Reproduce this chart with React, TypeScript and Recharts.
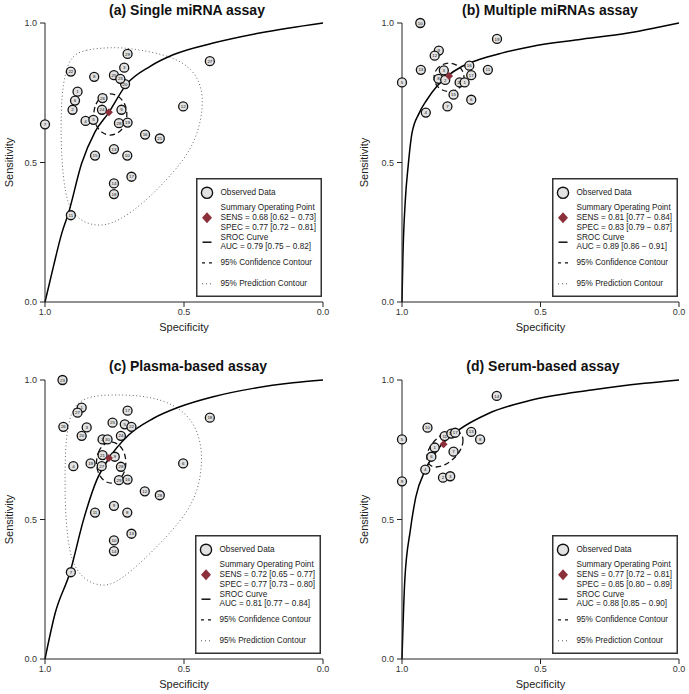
import { ComposedChart, Scatter, Line, XAxis, YAxis, Legend } from 'recharts';

type Pt = { x: number; y: number; id?: string };

const FONT = '"Liberation Sans", Arial, Helvetica, sans-serif';
const AXIS_TICKS = [0, 0.5, 1];

// (a) single miRNA assay
const A_STUDIES: Pt[] = [
  { x: 1.0, y: 0.637, id: '7' }, { x: 0.907, y: 0.826, id: '22' }, { x: 0.883, y: 0.754, id: '1' },
  { x: 0.892, y: 0.722, id: '6' }, { x: 0.901, y: 0.689, id: '2' }, { x: 0.854, y: 0.649, id: '4' },
  { x: 0.826, y: 0.653, id: '5' }, { x: 0.823, y: 0.807, id: '8' }, { x: 0.793, y: 0.731, id: '26' },
  { x: 0.795, y: 0.689, id: '24' }, { x: 0.752, y: 0.813, id: '25' }, { x: 0.715, y: 0.84, id: '3' },
  { x: 0.712, y: 0.781, id: '20' }, { x: 0.729, y: 0.8, id: '23' }, { x: 0.703, y: 0.889, id: '29' },
  { x: 0.725, y: 0.689, id: '9' }, { x: 0.734, y: 0.641, id: '28' }, { x: 0.703, y: 0.643, id: '19' },
  { x: 0.64, y: 0.6, id: '16' }, { x: 0.587, y: 0.586, id: '21' }, { x: 0.503, y: 0.701, id: '12' },
  { x: 0.407, y: 0.863, id: '27' }, { x: 0.752, y: 0.548, id: '13' }, { x: 0.82, y: 0.525, id: '15' },
  { x: 0.704, y: 0.525, id: '10' }, { x: 0.689, y: 0.449, id: '17' }, { x: 0.752, y: 0.425, id: '14' },
  { x: 0.752, y: 0.387, id: '18' }, { x: 0.907, y: 0.311, id: '11' },
];
const A_SUMMARY: Pt[] = [{ x: 0.77, y: 0.68 }];
const A_SROC: Pt[] = [
  { x: 1, y: 0 }, { x: 0.97, y: 0.126 }, { x: 0.94, y: 0.245 }, { x: 0.916, y: 0.317 },
  { x: 0.868, y: 0.497 }, { x: 0.82, y: 0.61 }, { x: 0.772, y: 0.677 }, { x: 0.707, y: 0.78 },
  { x: 0.623, y: 0.844 }, { x: 0.539, y: 0.886 }, { x: 0.395, y: 0.928 }, { x: 0.228, y: 0.964 },
  { x: 0, y: 1 },
];
const A_CONF: Pt[] = [
  { x: 0.827, y: 0.672 }, { x: 0.819, y: 0.711 }, { x: 0.796, y: 0.739 }, { x: 0.765, y: 0.749 },
  { x: 0.734, y: 0.739 }, { x: 0.711, y: 0.711 }, { x: 0.703, y: 0.672 }, { x: 0.711, y: 0.634 },
  { x: 0.734, y: 0.605 }, { x: 0.765, y: 0.595 }, { x: 0.796, y: 0.605 }, { x: 0.819, y: 0.634 },
];
const A_PRED: Pt[] = [
  { x: 0.904, y: 0.886 }, { x: 0.85, y: 0.904 }, { x: 0.802, y: 0.91 }, { x: 0.731, y: 0.913 },
  { x: 0.659, y: 0.904 }, { x: 0.539, y: 0.88 }, { x: 0.467, y: 0.832 }, { x: 0.437, y: 0.772 },
  { x: 0.431, y: 0.701 }, { x: 0.449, y: 0.605 }, { x: 0.491, y: 0.521 }, { x: 0.563, y: 0.437 },
  { x: 0.647, y: 0.353 }, { x: 0.731, y: 0.293 }, { x: 0.79, y: 0.272 }, { x: 0.85, y: 0.279 },
  { x: 0.904, y: 0.317 }, { x: 0.928, y: 0.389 }, { x: 0.94, y: 0.509 }, { x: 0.943, y: 0.629 },
  { x: 0.94, y: 0.737 }, { x: 0.928, y: 0.82 },
];
const A_STATS = ['SENS = 0.68 [0.62 − 0.73]', 'SPEC = 0.77 [0.72 − 0.81]', 'AUC = 0.79 [0.75 − 0.82]'];

// (b) multiple miRNAs assay
const B_STUDIES: Pt[] = [
  { x: 0.934, y: 1.0, id: '10' }, { x: 0.657, y: 0.943, id: '19' }, { x: 0.867, y: 0.901, id: '9' },
  { x: 0.882, y: 0.883, id: '12' }, { x: 0.932, y: 0.832, id: '13' }, { x: 1.0, y: 0.787, id: '5' },
  { x: 0.849, y: 0.83, id: '3' }, { x: 0.868, y: 0.8, id: '8' }, { x: 0.844, y: 0.796, id: '2' },
  { x: 0.757, y: 0.847, id: '16' }, { x: 0.75, y: 0.813, id: '17' }, { x: 0.69, y: 0.832, id: '11' },
  { x: 0.792, y: 0.787, id: '20' }, { x: 0.774, y: 0.787, id: '1' }, { x: 0.814, y: 0.743, id: '15' },
  { x: 0.75, y: 0.725, id: '6' }, { x: 0.836, y: 0.701, id: '7' }, { x: 0.914, y: 0.679, id: '4' },
];
const B_SUMMARY: Pt[] = [{ x: 0.83, y: 0.81 }];
const B_SROC: Pt[] = [
  { x: 1, y: 0 }, { x: 0.997, y: 0.15 }, { x: 0.988, y: 0.365 }, { x: 0.978, y: 0.485 },
  { x: 0.964, y: 0.605 }, { x: 0.938, y: 0.677 }, { x: 0.91, y: 0.725 }, { x: 0.874, y: 0.773 },
  { x: 0.838, y: 0.808 }, { x: 0.784, y: 0.844 }, { x: 0.724, y: 0.868 }, { x: 0.64, y: 0.892 },
  { x: 0.532, y: 0.916 }, { x: 0.364, y: 0.94 }, { x: 0.184, y: 0.964 }, { x: 0.088, y: 0.982 },
  { x: 0, y: 1 },
];
const B_CONF: Pt[] = [
  { x: 0.887, y: 0.805 }, { x: 0.879, y: 0.832 }, { x: 0.858, y: 0.851 }, { x: 0.83, y: 0.859 },
  { x: 0.802, y: 0.851 }, { x: 0.781, y: 0.832 }, { x: 0.774, y: 0.805 }, { x: 0.781, y: 0.778 },
  { x: 0.802, y: 0.759 }, { x: 0.83, y: 0.752 }, { x: 0.858, y: 0.759 }, { x: 0.879, y: 0.778 },
];
const B_STATS = ['SENS = 0.81 [0.77 − 0.84]', 'SPEC = 0.83 [0.79 − 0.87]', 'AUC = 0.89 [0.86 − 0.91]'];

// (c) plasma-based assay
const C_STUDIES: Pt[] = [
  { x: 0.937, y: 1.0, id: '23' }, { x: 0.868, y: 0.901, id: '1' }, { x: 0.883, y: 0.883, id: '27' },
  { x: 0.934, y: 0.832, id: '26' }, { x: 0.85, y: 0.83, id: '3' }, { x: 0.868, y: 0.8, id: '20' },
  { x: 0.703, y: 0.89, id: '17' }, { x: 0.757, y: 0.847, id: '25' }, { x: 0.713, y: 0.841, id: '5' },
  { x: 0.689, y: 0.832, id: '22' }, { x: 0.727, y: 0.8, id: '24' }, { x: 0.793, y: 0.787, id: '2' },
  { x: 0.775, y: 0.787, id: '30' }, { x: 0.793, y: 0.731, id: '21' }, { x: 0.749, y: 0.725, id: '9' },
  { x: 0.836, y: 0.701, id: '19' }, { x: 0.796, y: 0.691, id: '27' }, { x: 0.727, y: 0.689, id: '28' },
  { x: 0.898, y: 0.691, id: '4' }, { x: 0.734, y: 0.641, id: '29' }, { x: 0.703, y: 0.643, id: '16' },
  { x: 0.641, y: 0.601, id: '12' }, { x: 0.587, y: 0.587, id: '28' }, { x: 0.503, y: 0.701, id: '6' },
  { x: 0.407, y: 0.865, id: '18' }, { x: 0.752, y: 0.549, id: '9' }, { x: 0.82, y: 0.525, id: '11' },
  { x: 0.704, y: 0.525, id: '8' }, { x: 0.689, y: 0.449, id: '13' }, { x: 0.752, y: 0.425, id: '10' },
  { x: 0.752, y: 0.387, id: '14' }, { x: 0.907, y: 0.311, id: '7' },
];
const C_SUMMARY: Pt[] = [{ x: 0.77, y: 0.72 }];
const C_SROC: Pt[] = [
  { x: 1, y: 0 }, { x: 0.964, y: 0.162 }, { x: 0.91, y: 0.311 }, { x: 0.862, y: 0.497 },
  { x: 0.814, y: 0.641 }, { x: 0.772, y: 0.716 }, { x: 0.7, y: 0.802 }, { x: 0.611, y: 0.862 },
  { x: 0.515, y: 0.904 }, { x: 0.395, y: 0.94 }, { x: 0.251, y: 0.97 }, { x: 0.108, y: 0.99 },
  { x: 0, y: 1 },
];
const C_CONF: Pt[] = [
  { x: 0.817, y: 0.704 }, { x: 0.81, y: 0.743 }, { x: 0.789, y: 0.771 }, { x: 0.762, y: 0.781 },
  { x: 0.735, y: 0.771 }, { x: 0.714, y: 0.743 }, { x: 0.707, y: 0.704 }, { x: 0.714, y: 0.666 },
  { x: 0.735, y: 0.637 }, { x: 0.762, y: 0.627 }, { x: 0.789, y: 0.637 }, { x: 0.81, y: 0.666 },
];
const C_PRED: Pt[] = [
  { x: 0.904, y: 0.898 }, { x: 0.862, y: 0.934 }, { x: 0.802, y: 0.946 }, { x: 0.707, y: 0.947 },
  { x: 0.623, y: 0.94 }, { x: 0.539, y: 0.914 }, { x: 0.473, y: 0.862 }, { x: 0.44, y: 0.784 },
  { x: 0.434, y: 0.701 }, { x: 0.449, y: 0.605 }, { x: 0.491, y: 0.521 }, { x: 0.563, y: 0.437 },
  { x: 0.647, y: 0.353 }, { x: 0.719, y: 0.291 }, { x: 0.772, y: 0.261 }, { x: 0.826, y: 0.267 },
  { x: 0.874, y: 0.299 }, { x: 0.904, y: 0.353 }, { x: 0.92, y: 0.437 }, { x: 0.928, y: 0.557 },
  { x: 0.928, y: 0.677 }, { x: 0.925, y: 0.796 },
];
const C_STATS = ['SENS = 0.72 [0.65 − 0.77]', 'SPEC = 0.77 [0.73 − 0.80]', 'AUC = 0.81 [0.77 − 0.84]'];

// (d) serum-based assay
const D_STUDIES: Pt[] = [
  { x: 0.658, y: 0.943, id: '14' }, { x: 0.908, y: 0.829, id: '10' }, { x: 1.0, y: 0.787, id: '5' },
  { x: 0.846, y: 0.799, id: '11' }, { x: 0.822, y: 0.808, id: '12' }, { x: 0.808, y: 0.811, id: '17' },
  { x: 0.75, y: 0.814, id: '13' }, { x: 0.718, y: 0.787, id: '8' }, { x: 0.882, y: 0.758, id: '1' },
  { x: 0.894, y: 0.725, id: '6' }, { x: 0.814, y: 0.743, id: '7' }, { x: 0.916, y: 0.679, id: '4' },
  { x: 0.852, y: 0.65, id: '2' }, { x: 0.826, y: 0.655, id: '3' }, { x: 1.0, y: 0.637, id: '9' },
];
const D_SUMMARY: Pt[] = [{ x: 0.85, y: 0.77 }];
const D_SROC: Pt[] = [
  { x: 1, y: 0 }, { x: 0.99, y: 0.281 }, { x: 0.97, y: 0.461 }, { x: 0.95, y: 0.581 },
  { x: 0.916, y: 0.677 }, { x: 0.864, y: 0.76 }, { x: 0.796, y: 0.82 }, { x: 0.688, y: 0.88 },
  { x: 0.532, y: 0.928 }, { x: 0.316, y: 0.964 }, { x: 0.124, y: 0.988 }, { x: 0, y: 1 },
];
const D_CONF: Pt[] = [
  { x: 0.786, y: 0.811 }, { x: 0.777, y: 0.786 }, { x: 0.785, y: 0.752 }, { x: 0.81, y: 0.719 },
  { x: 0.844, y: 0.694 }, { x: 0.879, y: 0.685 }, { x: 0.904, y: 0.695 }, { x: 0.913, y: 0.72 },
  { x: 0.905, y: 0.754 }, { x: 0.88, y: 0.787 }, { x: 0.846, y: 0.812 }, { x: 0.811, y: 0.821 },
];
const D_STATS = ['SENS = 0.77 [0.72 − 0.81]', 'SPEC = 0.85 [0.80 − 0.89]', 'AUC = 0.88 [0.85 − 0.90]'];

const StudyDot = (props: any) => {
  const { cx, cy, payload } = props;
  if (cx == null || cy == null) return null;
  return (
    <g>
      <circle cx={cx} cy={cy} r={4.5} fill="#e2e2e2" stroke="#111" strokeWidth={1.3} />
      <text x={cx} y={cy + 1.6} textAnchor="middle" fontSize={4.4} fill="#111" fontFamily={FONT}>
        {payload.id}
      </text>
    </g>
  );
};

const SummaryDiamond = (props: any) => {
  const { cx, cy } = props;
  if (cx == null || cy == null) return null;
  const h = 4;
  return <polygon points={`${cx},${cy - h} ${cx + h},${cy} ${cx},${cy + h} ${cx - h},${cy}`} fill="#8b2f3b" />;
};

function SrocLegend({ stats }: { stats: string[] }) {
  const t = { fontSize: 8.2, fill: '#222', fontFamily: FONT, dominantBaseline: 'central' as const };
  return (
    <svg width={126} height={119} style={{ display: 'block' }}>
      <rect x={0.75} y={0.75} width={124.5} height={117.5} fill="#fff" stroke="#333" strokeWidth={1.5} />
      <circle cx={11} cy={14.8} r={5.6} fill="#e2e2e2" stroke="#111" strokeWidth={1.4} />
      <text x={24.5} y={14.8} {...t}>Observed Data</text>
      <polygon points="11,34.3 16,39.8 11,45.3 6,39.8" fill="#8b2f3b" />
      <text x={24.5} y={29.8} {...t}>Summary Operating Point</text>
      <text x={24.5} y={39.8} {...t}>{stats[0]}</text>
      <text x={24.5} y={49.8} {...t}>{stats[1]}</text>
      <line x1={6.5} x2={15.5} y1={64.2} y2={64.2} stroke="#111" strokeWidth={1.5} />
      <text x={24.5} y={59.8} {...t}>SROC Curve</text>
      <text x={24.5} y={68.6} {...t}>{stats[2]}</text>
      <line x1={6} x2={16} y1={84.8} y2={84.8} stroke="#111" strokeWidth={1.3} strokeDasharray="3 4" />
      <text x={24.5} y={84.8} {...t}>95% Confidence Contour</text>
      <line x1={6} x2={16} y1={105.8} y2={105.8} stroke="#555" strokeWidth={1} strokeDasharray="1 3" />
      <text x={24.5} y={105.8} {...t}>95% Prediction Contour</text>
    </svg>
  );
}

type PanelProps = {
  title: string;
  left: number;
  top: number;
  width: number;
  yAxisWidth: number;
  marginTop: number;
  marginRight: number;
  xAxisHeight: number;
  yLabelOffset: number;
  titleCx: number;
  titleCy: number;
  legendX: number;
  legendY: number;
  studies: Pt[];
  summary: Pt[];
  sroc: Pt[];
  conf: Pt[];
  pred?: Pt[];
  stats: string[];
};

function SrocPanel(p: PanelProps) {
  const tick = { fontSize: 9, fill: '#333', fontFamily: FONT };
  return (
    <div style={{ position: 'absolute', left: p.left, top: p.top, width: p.width, height: 347 }}>
      <ComposedChart
        width={p.width}
        height={347}
        margin={{ top: p.marginTop, right: p.marginRight, bottom: 0, left: 0 }}
      >
        <XAxis
          type="number"
          dataKey="x"
          domain={[0, 1]}
          reversed
          ticks={AXIS_TICKS}
          tickFormatter={(v: number) => v.toFixed(1)}
          height={p.xAxisHeight}
          tickSize={5}
          tick={tick}
          stroke="#222"
          label={{ value: 'Specificity', position: 'insideTop', offset: 21, fontSize: 11, fill: '#222', fontFamily: FONT }}
        />
        <YAxis
          type="number"
          dataKey="y"
          domain={[0, 1]}
          ticks={AXIS_TICKS}
          tickFormatter={(v: number) => v.toFixed(1)}
          width={p.yAxisWidth}
          tickSize={5}
          tickMargin={3}
          tick={tick}
          stroke="#222"
          label={{
            value: 'Sensitivity',
            angle: -90,
            position: 'insideLeft',
            offset: p.yLabelOffset,
            fontSize: 11,
            fill: '#222',
            fontFamily: FONT,
            style: { textAnchor: 'middle' },
          }}
        />
        {p.pred && (
          <Line
            data={p.pred}
            dataKey="y"
            type="basisClosed"
            stroke="#666"
            strokeWidth={1}
            strokeDasharray="1 2.5"
            dot={false}
            activeDot={false}
            legendType="none"
            isAnimationActive={false}
          />
        )}
        <Line
          data={p.sroc}
          dataKey="y"
          type="monotone"
          stroke="#000"
          strokeWidth={1.5}
          dot={false}
          activeDot={false}
          legendType="none"
          isAnimationActive={false}
        />
        <Line
          data={p.conf}
          dataKey="y"
          type="basisClosed"
          stroke="#111"
          strokeWidth={1.3}
          strokeDasharray="5.5 3.5"
          dot={false}
          activeDot={false}
          legendType="none"
          isAnimationActive={false}
        />
        <Scatter data={p.studies} shape={StudyDot} legendType="none" isAnimationActive={false} />
        <Scatter data={p.summary} shape={SummaryDiamond} legendType="none" isAnimationActive={false} />
        <Legend
          layout="vertical"
          align="center"
          verticalAlign="middle"
          wrapperStyle={{ left: p.legendX, top: p.legendY, width: 126, height: 119 }}
          content={() => <SrocLegend stats={p.stats} />}
        />
      </ComposedChart>
      <div
        style={{
          position: 'absolute',
          left: p.titleCx - 150,
          top: p.titleCy - 9,
          width: 300,
          lineHeight: '18px',
          textAlign: 'center',
          fontFamily: FONT,
          fontWeight: 'bold',
          fontSize: 14,
          color: '#111',
        }}
      >
        {p.title}
      </div>
    </div>
  );
}

export default function App() {
  return (
    <div style={{ position: 'absolute', left: 0, top: 0, width: 689, height: 694, background: '#fff', overflow: 'hidden' }}>
      <SrocPanel
        title="(a) Single miRNA assay"
        left={0} top={0} width={345}
        yAxisWidth={45} marginTop={23} marginRight={22} xAxisHeight={45} yLabelOffset={9}
        titleCx={187} titleCy={10} legendX={195.5} legendY={177.5}
        studies={A_STUDIES} summary={A_SUMMARY} sroc={A_SROC} conf={A_CONF} pred={A_PRED} stats={A_STATS}
      />
      <SrocPanel
        title="(b) Multiple miRNAs assay"
        left={345} top={0} width={344}
        yAxisWidth={57} marginTop={23} marginRight={10} xAxisHeight={45} yLabelOffset={19}
        titleCx={205} titleCy={10} legendX={206.7} legendY={177.7}
        studies={B_STUDIES} summary={B_SUMMARY} sroc={B_SROC} conf={B_CONF} stats={B_STATS}
      />
      <SrocPanel
        title="(c) Plasma-based assay"
        left={0} top={347} width={345}
        yAxisWidth={45} marginTop={33} marginRight={22} xAxisHeight={35} yLabelOffset={9}
        titleCx={188} titleCy={19} legendX={195} legendY={187.7}
        studies={C_STUDIES} summary={C_SUMMARY} sroc={C_SROC} conf={C_CONF} pred={C_PRED} stats={C_STATS}
      />
      <SrocPanel
        title="(d) Serum-based assay"
        left={345} top={347} width={344}
        yAxisWidth={57} marginTop={33} marginRight={10} xAxisHeight={35} yLabelOffset={19}
        titleCx={198} titleCy={19} legendX={206.7} legendY={187.7}
        studies={D_STUDIES} summary={D_SUMMARY} sroc={D_SROC} conf={D_CONF} stats={D_STATS}
      />
    </div>
  );
}
